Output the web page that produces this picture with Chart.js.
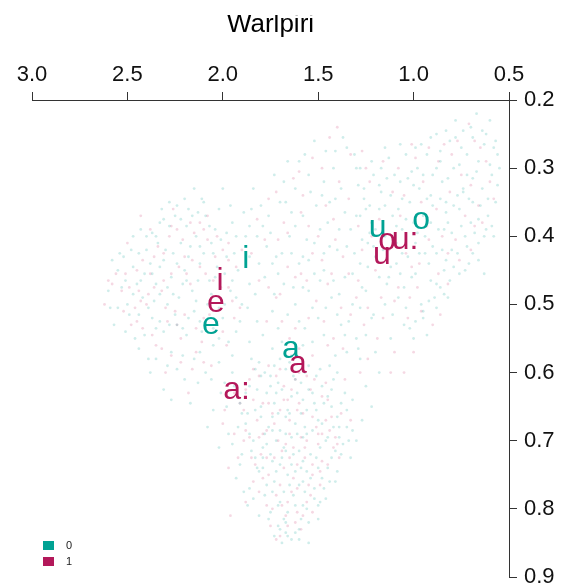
<!DOCTYPE html>
<html>
<head>
<meta charset="utf-8">
<script src="https://cdn.jsdelivr.net/npm/chart.js@4.4.1/dist/chart.umd.min.js"></script>
<style>
  html, body { margin: 0; padding: 0; background: #ffffff; }
  #wrap { width: 566px; height: 587px; }
</style>
</head>
<body>
<div id="wrap"><canvas id="c" width="566" height="587"></canvas></div>
<script>
// Warlpiri vowel space: normalised F2 (x, reversed, top) against F1 (y, reversed, right)
const chartTitle = 'Warlpiri';
const groups = ['0', '1'];
const groupColors = ['#00A293', '#B3185A'];
const cloudColors = ['rgba(0,162,147,0.19)', 'rgba(200,40,100,0.18)'];

const xTicks = [3.0, 2.5, 2.0, 1.5, 1.0, 0.5];
const yTicks = [0.2, 0.3, 0.4, 0.5, 0.6, 0.7, 0.8, 0.9];

// individual tokens [F2, F1], group 0
const tokens0 = [
  // back / high-right region
  [0.62,0.25],[0.70,0.24],[0.58,0.27],[0.66,0.29],[0.75,0.27],[0.81,0.26],[0.88,0.25],[0.93,0.28],[0.72,0.31],[0.64,0.33],
  [0.59,0.31],[0.79,0.30],[0.85,0.32],[0.98,0.30],[1.04,0.28],[1.10,0.31],[0.91,0.34],[0.69,0.35],[0.76,0.36],[0.83,0.35],
  [0.61,0.37],[0.57,0.35],[0.95,0.37],[1.02,0.35],[1.12,0.34],[1.18,0.36],[0.87,0.39],[0.73,0.40],[0.66,0.41],[0.80,0.42],
  [1.06,0.39],[0.99,0.41],[1.15,0.40],[1.22,0.38],[0.92,0.44],[0.84,0.45],[0.71,0.44],[0.63,0.40],[1.09,0.44],[1.01,0.46],
  [0.84,0.485],[0.89,0.49],[0.88,0.47],[0.96,0.50],[1.14,0.47],[1.20,0.43],[0.74,0.33],[0.86,0.29],[0.97,0.33],[1.07,0.32],
  [0.55,0.30],[0.60,0.23],[0.67,0.22],[0.78,0.23],[1.26,0.33],[1.30,0.37],[1.24,0.41],[0.82,0.38],[0.94,0.40],[1.11,0.37],
  [0.70,0.38],[0.66,0.435],[0.76,0.455],[0.58,0.40],[1.03,0.43],[0.90,0.31],[1.17,0.30],[0.85,0.42],[0.77,0.34],[1.00,0.38],
  [0.57,0.26],[0.64,0.245],[0.72,0.28],[0.78,0.255],[0.86,0.275],[0.96,0.265],[1.01,0.305],[1.13,0.285],[1.18,0.325],[1.28,0.30],
  [0.61,0.345],[0.69,0.315],[0.74,0.335],[0.83,0.365],[0.90,0.355],[1.00,0.325],[1.08,0.36],[1.17,0.335],[1.23,0.355],[0.59,0.385],
  [0.66,0.375],[0.72,0.415],[0.80,0.395],[0.88,0.425],[0.98,0.395],[1.04,0.375],[1.12,0.445],[1.21,0.415],[0.63,0.455],[0.82,0.49],
  [0.79,0.445],[0.86,0.475],[0.94,0.425],[1.05,0.475],[1.09,0.41],[0.95,0.51],[1.02,0.535],[0.88,0.505],[0.93,0.545],[0.99,0.525],
  [0.56,0.28],[0.63,0.265],[0.69,0.255],[0.74,0.245],[0.83,0.245],[0.91,0.255],[0.99,0.27],[1.07,0.265],[1.15,0.27],[1.21,0.31],
  [0.60,0.295],[0.67,0.305],[0.76,0.295],[0.82,0.315],[0.88,0.30],[0.95,0.31],[1.03,0.315],[1.14,0.315],[1.25,0.36],[0.56,0.325],
  [0.65,0.355],[0.71,0.345],[0.79,0.355],[0.86,0.345],[0.93,0.345],[1.06,0.345],[1.15,0.355],[1.20,0.39],[0.62,0.39],[0.68,0.395],
  [0.75,0.385],[0.84,0.39],[0.91,0.38],[1.09,0.385],[1.16,0.42],[0.69,0.425],[0.77,0.425],[0.83,0.435],[0.90,0.415],[0.97,0.425],
  [1.06,0.425],[1.13,0.46],[0.73,0.45],[0.81,0.465],[0.91,0.465],[0.99,0.455],[1.07,0.455],[1.04,0.505],[0.92,0.495],[1.11,0.515],
  // central region
  [1.35,0.27],[1.42,0.30],[1.55,0.31],[1.62,0.33],[1.48,0.34],[1.38,0.33],[1.30,0.30],[1.70,0.35],[1.76,0.37],[1.58,0.37],
  [1.45,0.38],[1.33,0.39],[1.40,0.42],[1.52,0.41],[1.65,0.40],[1.72,0.43],[1.60,0.44],[1.47,0.45],[1.36,0.46],[1.28,0.44],
  [1.55,0.48],[1.68,0.47],[1.78,0.46],[1.43,0.49],[1.32,0.50],[1.25,0.48],[1.62,0.50],[1.50,0.52],[1.38,0.53],[1.74,0.51],
  [1.82,0.40],[1.66,0.29],[1.52,0.26],[1.44,0.35],[1.58,0.43],
  [1.22,0.29],[1.37,0.255],[1.46,0.275],[1.60,0.29],[1.73,0.31],[1.84,0.33],[1.26,0.345],[1.36,0.365],[1.51,0.355],[1.64,0.365],
  [1.79,0.385],[1.89,0.365],[1.23,0.395],[1.31,0.425],[1.44,0.415],[1.56,0.405],[1.69,0.425],[1.77,0.415],[1.27,0.475],[1.39,0.485],
  [1.49,0.465],[1.58,0.475],[1.71,0.455],[1.83,0.485],[1.21,0.515],[1.34,0.525],[1.46,0.505],[1.57,0.535],[1.66,0.515],[1.79,0.545],
  [1.29,0.565],[1.41,0.575],[1.53,0.555],[1.64,0.575],[1.74,0.565],[1.86,0.555],[1.18,0.46],[1.47,0.32],[1.93,0.40],[1.81,0.44],
  [1.31,0.28],[1.41,0.275],[1.57,0.28],[1.68,0.32],[1.80,0.355],[1.29,0.325],[1.41,0.345],[1.54,0.335],[1.67,0.35],[1.75,0.395],
  [1.28,0.37],[1.39,0.39],[1.49,0.39],[1.62,0.385],[1.86,0.385],[1.27,0.405],[1.35,0.415],[1.47,0.425],[1.55,0.435],[1.64,0.425],
  [1.74,0.44],[1.86,0.43],[1.24,0.445],[1.32,0.455],[1.42,0.465],[1.52,0.455],[1.63,0.475],[1.73,0.485],[1.87,0.505],[1.28,0.505],
  [1.40,0.515],[1.53,0.505],[1.60,0.525],[1.71,0.535],[1.82,0.525],[1.36,0.545],[1.47,0.545],[1.58,0.56],[1.69,0.555],[1.25,0.545],
  // front / high-left region
  [2.55,0.45],[2.48,0.42],[2.40,0.40],[2.33,0.38],[2.25,0.37],[2.18,0.36],[2.10,0.35],[2.02,0.36],[1.95,0.38],[1.88,0.40],
  [2.45,0.47],[2.38,0.44],[2.30,0.42],[2.22,0.41],[2.14,0.40],[2.06,0.41],[1.98,0.43],[1.92,0.45],[2.50,0.50],[2.42,0.49],
  [2.35,0.47],[2.27,0.46],[2.20,0.45],[2.12,0.44],[2.04,0.46],[1.96,0.48],[1.90,0.50],[2.37,0.52],[2.29,0.50],[2.23,0.49],
  [2.16,0.48],[2.08,0.50],[2.00,0.52],[1.93,0.54],[2.31,0.54],[2.24,0.53],[2.18,0.52],[2.11,0.54],[2.05,0.56],[2.27,0.57],
  [2.15,0.58],[2.09,0.60],[2.20,0.61],[2.60,0.48],[2.43,0.39],[2.28,0.35],[2.15,0.33],[2.00,0.33],[1.85,0.36],[2.52,0.43],
  [2.34,0.41],[1.86,0.47],[2.57,0.53],[2.46,0.55],[2.39,0.58],
  [2.58,0.435],[2.51,0.465],[2.44,0.425],[2.37,0.395],[2.31,0.375],[2.24,0.355],[2.19,0.385],[2.13,0.365],[2.07,0.385],[2.01,0.405],
  [1.96,0.355],[2.55,0.505],[2.47,0.485],[2.41,0.455],[2.33,0.445],[2.26,0.425],[2.17,0.415],[2.10,0.425],[2.03,0.445],[1.95,0.465],
  [2.44,0.515],[2.36,0.495],[2.29,0.475],[2.21,0.47],[2.13,0.465],[2.06,0.485],[1.99,0.50],[1.91,0.525],[2.41,0.545],[2.33,0.525],
  [2.25,0.515],[2.19,0.545],[2.12,0.525],[2.05,0.535],[1.97,0.555],[2.35,0.58],[2.24,0.595],[2.13,0.615],[2.02,0.585],[2.31,0.625],
  [2.54,0.425],[2.47,0.445],[2.40,0.42],[2.35,0.40],[2.28,0.385],[2.22,0.375],[2.16,0.37],[2.09,0.37],[2.04,0.39],[1.98,0.395],
  [2.53,0.475],[2.43,0.465],[2.37,0.455],[2.31,0.435],[2.24,0.44],[2.18,0.43],[2.12,0.415],[2.05,0.425],[1.99,0.455],[1.94,0.425],
  [2.59,0.505],[2.49,0.515],[2.39,0.505],[2.33,0.485],[2.26,0.485],[2.19,0.465],[2.14,0.495],[2.07,0.465],[2.02,0.505],[1.93,0.49],
  [2.51,0.54],[2.44,0.565],[2.35,0.535],[2.28,0.53],[2.21,0.535],[2.15,0.51],[2.09,0.53],[2.02,0.55],[1.95,0.575],[2.38,0.60],
  [2.29,0.59],[2.21,0.575],[2.12,0.57],[2.06,0.61],[2.17,0.645],[2.27,0.64],[2.47,0.40],[2.32,0.36],[2.11,0.345],[2.20,0.345],
  // low / open region
  [1.85,0.58],[1.78,0.60],[1.70,0.58],[1.62,0.61],[1.55,0.59],[1.48,0.62],[1.40,0.60],[1.88,0.63],[1.80,0.65],[1.72,0.63],
  [1.65,0.66],[1.58,0.64],[1.50,0.67],[1.43,0.65],[1.92,0.68],[1.84,0.70],[1.76,0.68],[1.68,0.71],[1.61,0.69],[1.54,0.72],
  [1.46,0.70],[1.39,0.68],[1.82,0.74],[1.74,0.73],[1.66,0.75],[1.59,0.74],[1.52,0.77],[1.45,0.74],[1.78,0.78],[1.70,0.79],
  [1.63,0.78],[1.56,0.80],[1.49,0.79],[1.67,0.82],[1.60,0.83],[1.73,0.84],[1.64,0.845],[1.70,0.83],[1.95,0.60],[1.90,0.72],
  [1.87,0.66],[1.75,0.62],[1.57,0.68],[1.63,0.72],[1.71,0.66],[1.79,0.71],[1.53,0.63],[1.44,0.59],[1.36,0.63],[1.34,0.70],
  [1.41,0.76],[1.58,0.76],[1.67,0.69],[1.73,0.76],[1.86,0.77],[1.98,0.65],[2.02,0.71],[1.81,0.81],[1.55,0.85],[1.66,0.84],
  [1.83,0.595],[1.75,0.605],[1.67,0.595],[1.59,0.615],[1.51,0.605],[1.43,0.625],[1.91,0.645],[1.82,0.625],[1.73,0.645],[1.64,0.635],
  [1.56,0.655],[1.47,0.645],[1.40,0.665],[1.88,0.675],[1.80,0.665],[1.70,0.685],[1.62,0.675],[1.53,0.685],[1.45,0.695],[1.37,0.705],
  [1.85,0.715],[1.77,0.705],[1.69,0.725],[1.60,0.715],[1.51,0.725],[1.43,0.725],[1.81,0.745],[1.72,0.745],[1.64,0.735],[1.56,0.745],
  [1.48,0.755],[1.40,0.745],[1.77,0.765],[1.68,0.775],[1.60,0.765],[1.52,0.785],[1.75,0.805],[1.66,0.805],[1.58,0.795],[1.50,0.815],
  [1.71,0.825],[1.62,0.835],[1.68,0.815],[1.95,0.705],[1.99,0.615],[2.05,0.655],[1.93,0.755],[1.87,0.795],[1.35,0.655],[1.32,0.685],
  [1.66,0.655],[1.58,0.695],[1.74,0.685],[1.79,0.725],[1.55,0.625],[1.63,0.605],[1.71,0.615],[1.48,0.675],[1.84,0.785],[1.46,0.785],
  [1.81,0.585],[1.73,0.59],[1.65,0.585],[1.57,0.60],[1.49,0.595],[1.42,0.61],[1.94,0.62],[1.86,0.62],[1.77,0.63],[1.69,0.625],
  [1.61,0.63],[1.52,0.645],[1.45,0.635],[1.38,0.645],[1.90,0.66],[1.83,0.655],[1.74,0.665],[1.67,0.665],[1.59,0.66],[1.51,0.655],
  [1.42,0.68],[1.86,0.69],[1.78,0.69],[1.72,0.70],[1.64,0.695],[1.56,0.69],[1.49,0.71],[1.41,0.715],[1.83,0.725],[1.75,0.72],
  [1.67,0.715],[1.58,0.73],[1.50,0.74],[1.44,0.76],[1.79,0.74],[1.70,0.735],[1.62,0.745],[1.54,0.755],[1.47,0.77],[1.74,0.775],
  [1.65,0.765],[1.57,0.775],[1.50,0.795],[1.71,0.795],[1.62,0.795],[1.55,0.82],[1.67,0.835],[1.59,0.815],[1.76,0.815],[1.97,0.69],
  [2.01,0.63],[1.91,0.735],[1.89,0.775],[1.35,0.68],[1.33,0.725],[1.39,0.695],[1.80,0.605],[1.60,0.845],[1.69,0.85],[2.08,0.68],
  // mid-right fringe
  [1.30,0.55],[1.22,0.52],[1.15,0.50],[1.08,0.49],[1.28,0.58],[1.20,0.57],[1.12,0.55],[1.35,0.57],[1.25,0.62],[1.18,0.60],
  [1.32,0.64],[1.27,0.67],[1.05,0.53],[1.38,0.72],[1.30,0.70],[1.00,0.55],[0.95,0.52],[1.22,0.65]
];

// individual tokens [F2, F1], group 1
const tokens1 = [
  [0.68,0.26],[0.80,0.28],[0.92,0.27],[0.60,0.32],[0.73,0.37],[0.88,0.36],[1.05,0.34],[1.13,0.42],[0.97,0.44],[0.82,0.47],
  [0.70,0.42],[1.20,0.45],[0.90,0.53],[1.02,0.49],[0.96,0.51],[0.64,0.38],[1.08,0.30],[0.95,0.32],[0.85,0.40],[1.16,0.52],
  [1.00,0.57],[1.12,0.60],
  [0.62,0.29],[0.75,0.31],[0.84,0.265],[0.99,0.285],[1.11,0.335],[0.66,0.355],[0.78,0.405],[0.93,0.385],[1.04,0.425],[1.18,0.375],
  [0.87,0.455],[0.98,0.475],[1.10,0.495],[1.23,0.32],[0.71,0.235],
  [0.65,0.27],[0.77,0.26],[0.87,0.29],[1.01,0.265],[1.16,0.29],[0.58,0.345],[0.70,0.325],[0.81,0.335],[0.96,0.35],[1.07,0.37],
  [1.22,0.40],[0.68,0.385],[0.82,0.425],[0.92,0.405],[1.01,0.445],[0.76,0.435],[1.08,0.475],[1.17,0.49],[0.86,0.515],[1.03,0.52],
  [1.40,0.24],[1.33,0.28],[1.48,0.30],[1.58,0.34],[1.68,0.38],[1.50,0.40],[1.37,0.43],[1.62,0.46],[1.45,0.47],[1.30,0.49],
  [1.72,0.49],[1.55,0.52],[1.42,0.55],[1.26,0.53],[1.65,0.55],
  [1.25,0.30],[1.39,0.32],[1.53,0.285],[1.63,0.315],[1.76,0.345],[1.29,0.385],[1.42,0.375],[1.55,0.385],[1.71,0.405],[1.85,0.425],
  [1.34,0.455],[1.48,0.435],[1.59,0.455],[1.76,0.475],[1.24,0.505],[1.38,0.505],[1.51,0.495],[1.69,0.525],[1.45,0.56],[1.60,0.565],
  [1.27,0.275],[1.44,0.255],[1.60,0.305],[1.72,0.335],[1.82,0.375],[1.34,0.345],[1.46,0.355],[1.59,0.365],[1.66,0.395],[1.78,0.405],
  [1.27,0.42],[1.41,0.405],[1.53,0.425],[1.66,0.445],[1.81,0.465],[1.29,0.465],[1.43,0.455],[1.56,0.465],[1.70,0.485],[1.33,0.515],
  [1.47,0.525],[1.62,0.535],[1.77,0.525],[1.37,0.565],[1.53,0.575],
  [2.62,0.50],[2.53,0.48],[2.45,0.45],[2.36,0.43],[2.28,0.40],[2.20,0.43],[2.12,0.38],[2.04,0.43],[1.97,0.41],[2.40,0.50],
  [2.32,0.48],[2.25,0.51],[2.17,0.47],[2.10,0.52],[2.02,0.49],[1.94,0.52],[2.48,0.53],[2.35,0.56],[2.22,0.55],[2.14,0.57],
  [2.06,0.59],[1.98,0.56],[2.30,0.60],[2.18,0.63],[2.58,0.47],[2.43,0.37],[2.26,0.36],[2.08,0.37],[1.90,0.42],[2.50,0.41],
  [2.56,0.455],[2.49,0.475],[2.42,0.435],[2.34,0.415],[2.27,0.385],[2.21,0.405],[2.15,0.395],[2.08,0.405],[2.00,0.42],[1.93,0.445],
  [2.46,0.505],[2.39,0.485],[2.31,0.465],[2.23,0.445],[2.16,0.435],[2.09,0.455],[2.01,0.475],[1.95,0.495],[2.42,0.535],[2.29,0.525],
  [2.20,0.515],[2.11,0.555],[2.03,0.525],[2.27,0.575],[2.16,0.595],
  [2.60,0.465],[2.51,0.455],[2.44,0.48],[2.38,0.455],[2.31,0.425],[2.24,0.39],[2.17,0.38],[2.10,0.39],[2.03,0.40],[1.97,0.435],
  [2.52,0.51],[2.43,0.495],[2.36,0.475],[2.27,0.455],[2.19,0.455],[2.12,0.445],[2.05,0.465],[1.97,0.475],[1.91,0.505],[2.45,0.525],
  [2.37,0.545],[2.30,0.505],[2.24,0.53],[2.14,0.535],[2.07,0.515],[2.00,0.54],[2.32,0.565],[2.22,0.585],[2.10,0.585],[2.38,0.39],
  [1.86,0.61],[1.76,0.59],[1.68,0.62],[1.60,0.60],[1.52,0.61],[1.45,0.64],[1.82,0.67],[1.74,0.66],[1.66,0.64],[1.58,0.66],
  [1.50,0.69],[1.42,0.71],[1.89,0.70],[1.80,0.72],[1.71,0.70],[1.63,0.71],[1.56,0.70],[1.48,0.73],[1.84,0.76],[1.76,0.75],
  [1.68,0.74],[1.61,0.77],[1.53,0.75],[1.74,0.80],[1.66,0.79],[1.58,0.81],[1.70,0.84],[1.62,0.82],[1.94,0.63],[1.97,0.74],
  [1.79,0.69],[1.65,0.67],[1.54,0.78],[1.46,0.67],[1.38,0.66],[1.88,0.79],[1.72,0.845],[1.96,0.81],
  [1.81,0.605],[1.72,0.605],[1.64,0.625],[1.56,0.605],[1.48,0.635],[1.89,0.655],[1.79,0.645],[1.70,0.655],[1.61,0.655],[1.53,0.665],
  [1.44,0.685],[1.86,0.695],[1.77,0.685],[1.67,0.705],[1.59,0.695],[1.50,0.705],[1.41,0.695],[1.83,0.735],[1.73,0.725],[1.65,0.725],
  [1.57,0.725],[1.49,0.745],[1.79,0.755],[1.70,0.765],[1.63,0.755],[1.55,0.765],[1.77,0.795],[1.69,0.795],[1.61,0.805],[1.53,0.805],
  [1.66,0.825],[1.92,0.725],[2.00,0.675],[1.39,0.725],[1.88,0.625],
  [1.84,0.595],[1.70,0.595],[1.62,0.61],[1.54,0.625],[1.46,0.615],[1.91,0.645],[1.84,0.64],[1.76,0.645],[1.68,0.64],[1.60,0.645],
  [1.51,0.68],[1.43,0.665],[1.88,0.685],[1.81,0.695],[1.73,0.675],[1.65,0.69],[1.57,0.71],[1.48,0.69],[1.40,0.705],[1.85,0.725],
  [1.77,0.725],[1.69,0.715],[1.61,0.735],[1.53,0.735],[1.45,0.735],[1.81,0.775],[1.72,0.78],[1.64,0.775],[1.56,0.79],[1.49,0.765],
  [1.75,0.825],[1.67,0.81],[1.59,0.83],[1.94,0.69],[1.99,0.655],
  [1.28,0.60],[1.19,0.55],[1.33,0.67],[1.24,0.58],[1.10,0.57],[1.36,0.61],[1.05,0.60]
];

// vowel means: label, group, F2, F1
const vowelLabels = ['i','e','a','u','o','i','e','a','a:','u','o','u:'];
const vowelGroups = [0,0,0,0,0,1,1,1,1,1,1,1];
const vowelF2 = [1.880,2.062,1.643,1.189,0.961,2.015,2.036,1.606,1.928,1.166,1.139,1.045];
const vowelF1 = [0.435,0.532,0.567,0.389,0.378,0.467,0.499,0.589,0.627,0.429,0.408,0.407];

const toPoints = list => list.map(p => ({ x: p[0], y: p[1] }));

const FONT = "'Liberation Sans', Arial, Helvetica, sans-serif";
const AXIS_COLOR = '#333333';

const vowelPlugin = {
  id: 'vowelLabels',
  afterDatasetsDraw(chart) {
    const { ctx, scales } = chart;
    ctx.save();
    ctx.font = '32px ' + FONT;
    ctx.textAlign = 'center';
    ctx.textBaseline = 'alphabetic';
    vowelLabels.forEach((lab, i) => {
      const px = scales.x.getPixelForValue(vowelF2[i]);
      const py = scales.y.getPixelForValue(vowelF1[i]);
      ctx.fillStyle = groupColors[vowelGroups[i]];
      ctx.fillText(lab, px, py + 8);
    });
    ctx.restore();
  }
};

// the heading sits against the top edge and loses its upper strip
const titlePlugin = {
  id: 'clippedTitle',
  afterDraw(chart) {
    const { ctx, chartArea } = chart;
    ctx.save();
    ctx.beginPath();
    ctx.rect(0, 15, chart.width, chart.height);
    ctx.clip();
    ctx.font = '26px ' + FONT;
    ctx.fillStyle = '#000000';
    ctx.textAlign = 'center';
    ctx.textBaseline = 'alphabetic';
    ctx.fillText(chartTitle, (chartArea.left + chartArea.right) / 2, 32);
    ctx.restore();
  }
};

const keyPlugin = {
  id: 'groupKey',
  afterDraw(chart) {
    const { ctx } = chart;
    ctx.save();
    ctx.font = '11px ' + FONT;
    ctx.textBaseline = 'middle';
    ctx.textAlign = 'left';
    groups.forEach((g, i) => {
      const y = 541 + i * 16;
      ctx.fillStyle = groupColors[i];
      ctx.fillRect(43, y, 11, 9);
      ctx.fillStyle = '#222222';
      ctx.fillText(g, 66, y + 5);
    });
    ctx.restore();
  }
};

new Chart(document.getElementById('c'), {
  type: 'scatter',
  data: {
    datasets: [
      { label: groups[0], data: toPoints(tokens0), backgroundColor: cloudColors[0], borderWidth: 0, pointRadius: 1.4 },
      { label: groups[1], data: toPoints(tokens1), backgroundColor: cloudColors[1], borderWidth: 0, pointRadius: 1.4 }
    ]
  },
  options: {
    responsive: false,
    animation: false,
    devicePixelRatio: 1,
    layout: { padding: { left: 32, right: 0, top: 0, bottom: 10 } },
    plugins: { legend: { display: false }, tooltip: { enabled: false }, title: { display: false } },
    scales: {
      x: {
        type: 'linear',
        position: 'top',
        reverse: true,
        min: 0.5, max: 3.0,
        afterBuildTicks: s => { s.ticks = xTicks.map(v => ({ value: v })); },
        afterFit: s => { s.height = 100; s.paddingLeft = 0; s.paddingRight = 0; },
        grid: { display: true, drawOnChartArea: false, drawTicks: true, tickLength: 8, color: AXIS_COLOR },
        border: { display: true, color: AXIS_COLOR, width: 1 },
        ticks: {
          maxRotation: 0, autoSkip: false, padding: 4, color: '#111111',
          font: { family: FONT, size: 22 },
          callback: v => Number(v).toFixed(1)
        }
      },
      y: {
        type: 'linear',
        position: 'right',
        reverse: true,
        min: 0.2, max: 0.9,
        afterBuildTicks: s => { s.ticks = yTicks.map(v => ({ value: v })); },
        afterFit: s => { s.width = 57; s.paddingTop = 0; s.paddingBottom = 0; },
        grid: { display: true, drawOnChartArea: false, drawTicks: true, tickLength: 8, color: AXIS_COLOR },
        border: { display: true, color: AXIS_COLOR, width: 1 },
        ticks: {
          autoSkip: false, padding: 7, color: '#111111',
          font: { family: FONT, size: 22 },
          callback: v => Number(v).toFixed(1)
        }
      }
    }
  },
  plugins: [vowelPlugin, titlePlugin, keyPlugin]
});
</script>
</body>
</html>
